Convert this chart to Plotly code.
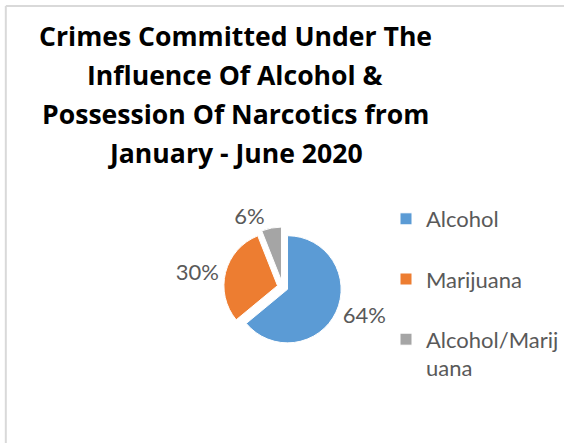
import plotly.graph_objects as go

# Data
categories = ["Alcohol", "Marijuana", "Alcohol/Marijuana"]
shares = [64, 30, 6]
legend_labels = ["Alcohol<br> ", "Marijuana<br> ", "Alcohol/Marij<br>uana"]
title_lines = [
    "Crimes Committed Under The",
    "Influence Of Alcohol &",
    "Possession Of Narcotics from",
    "January - June 2020",
]
colors = ["#5B9BD5", "#ED7D31", "#A5A5A5"]

W, H = 564, 443
CX, CY, HALF = 292, 287, 62

fig = go.Figure()
fig.add_trace(go.Pie(
    labels=legend_labels,
    values=shares,
    customdata=categories,
    sort=False,
    direction="clockwise",
    rotation=0,
    pull=[0.1, 0.1, 0.12],
    marker=dict(colors=colors, line=dict(color="white", width=1)),
    textinfo="percent",
    texttemplate="%{percent:.0%}",
    textposition="outside",
    textfont=dict(family="Lato", size=22, color="#595959"),
    hovertemplate="%{customdata}: %{value}%<extra></extra>",
    domain=dict(x=[(CX - HALF) / W, (CX + HALF) / W],
                y=[1 - (CY + HALF) / H, 1 - (CY - HALF) / H]),
))

# Title lines
baselines = [46, 85, 124, 163]
for txt, b in zip(title_lines, baselines):
    fig.add_annotation(
        text=f"<b>{txt}</b>", x=243 / W, y=1 - (b - 10) / H,
        xref="paper", yref="paper", xanchor="center", yanchor="middle",
        showarrow=False, font=dict(family="Open Sans", size=26.6, color="#000000"),
    )

# Chart area border (left and top visible)
fig.add_shape(type="line", xref="paper", yref="paper",
              x0=6 / W, x1=6 / W, y0=-0.1, y1=1 - 6 / H,
              line=dict(color="#D9D9D9", width=2))
fig.add_shape(type="line", xref="paper", yref="paper",
              x0=6 / W, x1=1.1, y0=1 - 6 / H, y1=1 - 6 / H,
              line=dict(color="#D9D9D9", width=2))

fig.update_layout(
    width=W, height=H,
    margin=dict(l=0, r=0, t=0, b=0),
    paper_bgcolor="white", plot_bgcolor="white",
    showlegend=True,
    legend=dict(x=399 / W, xanchor="left", y=1 - 198 / H, yanchor="top",
                valign="top", font=dict(family="Lato", size=22, color="#595959"),
                bgcolor="rgba(0,0,0,0)"),
)

fig.write_html("out.html")
